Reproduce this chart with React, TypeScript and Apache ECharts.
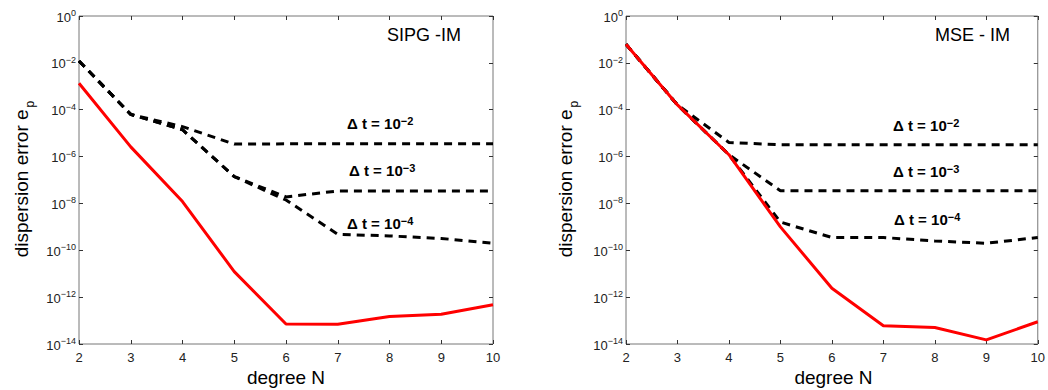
import React, { useEffect, useRef } from "react";
import * as echarts from "echarts";

// polynomial degree N
const degrees = [2, 3, 4, 5, 6, 7, 8, 9, 10];

// SIPG - IM (left panel)
const sipgExact = [1.35e-3, 2.6e-6, 1.2e-8, 1.23e-11, 7.1e-14, 7.0e-14, 1.5e-13, 1.85e-13, 4.7e-13];
const sipgDt2 = [1.2e-2, 6.3e-5, 1.9e-5, 3.4e-6, 3.5e-6, 3.5e-6, 3.5e-6, 3.5e-6, 3.5e-6];
const sipgDt3 = [1.2e-2, 6.3e-5, 1.4e-5, 1.4e-7, 1.9e-8, 3.4e-8, 3.4e-8, 3.4e-8, 3.4e-8];
const sipgDt4 = [1.2e-2, 6.3e-5, 1.4e-5, 1.4e-7, 1.4e-8, 4.8e-10, 4.1e-10, 3.2e-10, 2.0e-10];

// MSE - IM (right panel)
const mseExact = [6.2e-2, 1.6e-4, 1.2e-6, 1.0e-9, 2.4e-12, 6.0e-14, 5.1e-14, 1.5e-14, 8.9e-14];
const mseDt2 = [6.2e-2, 1.6e-4, 4.0e-6, 3.2e-6, 3.2e-6, 3.2e-6, 3.2e-6, 3.2e-6, 3.2e-6];
const mseDt3 = [6.2e-2, 1.6e-4, 1.2e-6, 3.5e-8, 3.5e-8, 3.5e-8, 3.5e-8, 3.5e-8, 3.5e-8];
const mseDt4 = [6.2e-2, 1.6e-4, 1.2e-6, 1.6e-9, 3.5e-10, 3.5e-10, 2.5e-10, 2.0e-10, 3.5e-10];

const panelTitles = ["SIPG -IM", "MSE - IM"];
const dtExponents = ["2", "3", "4"];
const xAxisTitle = "degree N";
const yAxisTitle = "dispersion error e";
const yAxisSub = "p";

const FONT = "'Liberation Sans', Arial, Helvetica, sans-serif";
const MINUS = "\u2212";

const pairs = (ys: number[]) => degrees.map((d, i) => [d, ys[i]]);

export default function App() {
  const ref = useRef<HTMLDivElement>(null);

  useEffect(() => {
    if (!ref.current) return;
    const chart = echarts.init(ref.current, null, { renderer: "svg" });

    const grids = [
      { left: 79, top: 16, width: 414, height: 328 },
      { left: 626, top: 16, width: 415, height: 328 },
    ];

    const yLabelFormatter = (v: number) => {
      const e = Math.round(Math.log10(v));
      return e === 0 ? "{b|10}{s|0}" : `{b|10}{s|${MINUS}${-e}}`;
    };
    const yRich = {
      b: { fontSize: 13, fontFamily: FONT, color: "#222", verticalAlign: "bottom" },
      s: { fontSize: 9, fontFamily: FONT, color: "#222", verticalAlign: "top", padding: [0, 0, 6, 0] },
    };

    const xAxes: any[] = [];
    const yAxes: any[] = [];
    grids.forEach((_, gi) => {
      const common = {
        gridIndex: gi,
        type: "value",
        min: 2,
        max: 10,
        interval: 1,
        axisLine: { show: false },
        splitLine: { show: false },
        axisTick: { show: true, inside: true, length: 4, lineStyle: { color: "#333" } },
      };
      xAxes.push({
        ...common,
        position: "bottom",
        axisLabel: { show: true, fontSize: 13, fontFamily: FONT, color: "#222", margin: 7 },
      });
      xAxes.push({ ...common, position: "top", axisLabel: { show: false } });
      const ycommon = {
        gridIndex: gi,
        type: "log",
        logBase: 10,
        min: 1e-14,
        max: 1,
        interval: 2,
        axisLine: { show: false },
        splitLine: { show: false },
        minorTick: { show: false },
        axisTick: { show: true, inside: true, length: 4, lineStyle: { color: "#333" } },
      };
      yAxes.push({
        ...ycommon,
        position: "left",
        axisLabel: { show: true, margin: 3, formatter: yLabelFormatter, rich: yRich },
      });
      yAxes.push({ ...ycommon, position: "right", axisLabel: { show: false } });
    });

    const dashed = (name: string, gi: number, ys: number[]) => ({
      name,
      type: "line",
      xAxisIndex: gi * 2,
      yAxisIndex: gi * 2,
      data: pairs(ys),
      symbol: "none",
      lineStyle: { color: "#000", width: 3, type: [8, 6] },
    });
    const solid = (name: string, gi: number, ys: number[]) => ({
      name,
      type: "line",
      xAxisIndex: gi * 2,
      yAxisIndex: gi * 2,
      data: pairs(ys),
      symbol: "none",
      lineStyle: { color: "#ff0000", width: 3 },
    });

    const series = [
      dashed("SIPG dt=1e-2", 0, sipgDt2),
      dashed("SIPG dt=1e-3", 0, sipgDt3),
      dashed("SIPG dt=1e-4", 0, sipgDt4),
      solid("SIPG exact", 0, sipgExact),
      dashed("MSE dt=1e-2", 1, mseDt2),
      dashed("MSE dt=1e-3", 1, mseDt3),
      dashed("MSE dt=1e-4", 1, mseDt4),
      solid("MSE exact", 1, mseExact),
    ];

    const annRich = {
      b: { fontSize: 15, fontWeight: "bold", fontFamily: FONT, color: "#000", verticalAlign: "bottom" },
      s: { fontSize: 11, fontWeight: "bold", fontFamily: FONT, color: "#000", verticalAlign: "top", padding: [0, 0, 5, 0] },
    };
    const annot = (x: number, y: number, exp: string) => ({
      type: "text",
      x,
      y,
      z: 100,
      style: {
        text: `{b|\u0394 t = 10}{s|${MINUS}${exp}}`,
        rich: annRich,
        align: "left",
        verticalAlign: "middle",
      },
    });
    const annPos = [
      [[347, 123], [349, 170], [347, 223]],
      [[893, 125], [893, 171], [894, 219]],
    ];

    const graphic: any[] = [];
    grids.forEach((g, gi) => {
      graphic.push({
        type: "text",
        x: gi === 0 ? 387 : 935,
        y: 35,
        style: { text: panelTitles[gi], fontSize: 18, fontFamily: FONT, fill: "#000", align: "left", verticalAlign: "middle" },
      });
      dtExponents.forEach((e, k) => {
        graphic.push(annot(annPos[gi][k][0], annPos[gi][k][1], e));
      });
      graphic.push({
        type: "text",
        x: g.left + g.width / 2,
        y: 377,
        style: { text: xAxisTitle, fontSize: 19, fontFamily: FONT, fill: "#000", align: "center", verticalAlign: "middle" },
      });
      graphic.push({
        type: "text",
        x: gi === 0 ? 24 : 568,
        y: 179,
        rotation: Math.PI / 2,
        style: {
          text: `{b|${yAxisTitle}}{p|${yAxisSub}}`,
          rich: {
            b: { fontSize: 19, fontFamily: FONT, fill: "#000", color: "#000", verticalAlign: "top" },
            p: { fontSize: 12, fontFamily: FONT, fill: "#000", color: "#000", verticalAlign: "bottom", padding: [12, 0, 0, 2] },
          },
          align: "center",
          verticalAlign: "middle",
        },
      });
    });

    chart.setOption({
      animation: false,
      backgroundColor: "#fff",
      grid: grids.map((g) => ({ ...g, show: true, borderColor: "#777", borderWidth: 1, backgroundColor: "transparent" })),
      xAxis: xAxes,
      yAxis: yAxes,
      series,
      graphic,
    });

    return () => chart.dispose();
  }, []);

  return (
    <div
      ref={ref}
      style={{ position: "absolute", left: 0, top: 0, width: 1048, height: 390, background: "#fff" }}
    />
  );
}
